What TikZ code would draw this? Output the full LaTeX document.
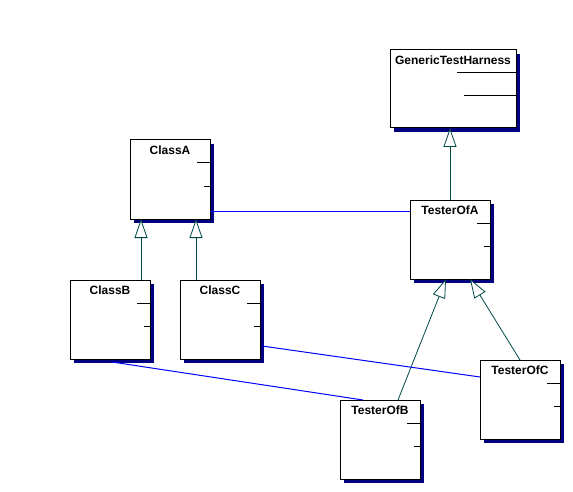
\documentclass[tikz,border=0pt]{standalone}
\usepackage{fontspec}
\setmainfont{Liberation Sans}
\usetikzlibrary{arrows.meta,shadows,calc}
\definecolor{shadowblue}{RGB}{0,0,128}
\definecolor{teal}{RGB}{0,72,72}
\tikzset{
  cls/.style={draw=black, fill=white, line width=1pt, outer sep=0pt, inner sep=0pt,
    minimum width=80pt, minimum height=79pt,
    drop shadow={shadow xshift=4pt, shadow yshift=-4pt, fill=shadowblue, opacity=1}},
  ttl/.style={anchor=center, inner sep=0pt, font=\fontsize{12}{13}\selectfont\bfseries},
  inh/.style={draw=teal, line width=0.8pt, -{Triangle[open, length=19pt, width=13pt, fill=white]}},
  assoc/.style={draw=blue, line width=1pt},
  comp/.style={draw=black, line width=1pt}
}
\begin{document}
\begin{tikzpicture}[x=1pt,y=-1pt]
\useasboundingbox (0,0) rectangle (573,492);
\node[cls, minimum width=126pt, minimum height=78pt] (gth) at (453,89) {};
\node[cls] (ca) at (170,179.5) {};
\node[cls] (cb) at (110,319.5) {};
\node[cls] (cc) at (220,319.5) {};
\node[cls] (ta) at (450,239.5) {};
\node[cls] (tb) at (380,439.5) {};
\node[cls] (tc) at (520,399.5) {};

\node[ttl] (tgth) at ($(gth.north)+(0,10)$) {GenericTestHarness};
\node[ttl] (tca) at ($(ca.north)+(0,10)$) {ClassA};
\node[ttl] (tcb) at ($(cb.north)+(0,10)$) {ClassB};
\node[ttl] (tcc) at ($(cc.north)+(0,10)$) {ClassC};
\node[ttl] (tta) at ($(ta.north)+(0,10)$) {TesterOfA};
\node[ttl] (ttb) at ($(tb.north)+(0,10)$) {TesterOfB};
\node[ttl] (ttc) at ($(tc.north)+(0,10)$) {TesterOfC};

\draw[comp] ($(gth.north east)+(0,23)$) -- ++(-59,0);
\draw[comp] ($(gth.north east)+(0,46)$) -- ++(-52,0);
\foreach \n in {ca,cb,cc,ta,tb,tc}{
  \draw[comp] ($(\n.north east)+(0,23)$) -- ++(-13,0);
  \draw[comp] ($(\n.north east)+(0,46)$) -- ++(-6,0);
}

% inheritance
\draw[inh] (ta.north) -- (ta.north |- gth.south);
\draw[inh] ([xshift=31pt]cb.north) -- ([xshift=31pt]cb.north |- ca.south);
\draw[inh] ([xshift=-24pt]cc.north) -- ([xshift=-24pt]cc.north |- ca.south);
\draw[inh] ([xshift=18pt]tb.north) -- ([xshift=-4pt]ta.south);
\draw[inh] (tc.north) -- ([xshift=20pt]ta.south);

% associations
\draw[assoc] ([yshift=-31.5pt]ca.east) -- ([yshift=-31.5pt]ca.east -| ta.west);
\draw[assoc] ([xshift=2pt,yshift=-3pt]cb.south) -- ([xshift=-17pt]tb.north);
\draw[assoc] ([xshift=2pt,yshift=-26.5pt]cc.east) -- ([yshift=22.5pt]tc.west);
\end{tikzpicture}
\end{document}
